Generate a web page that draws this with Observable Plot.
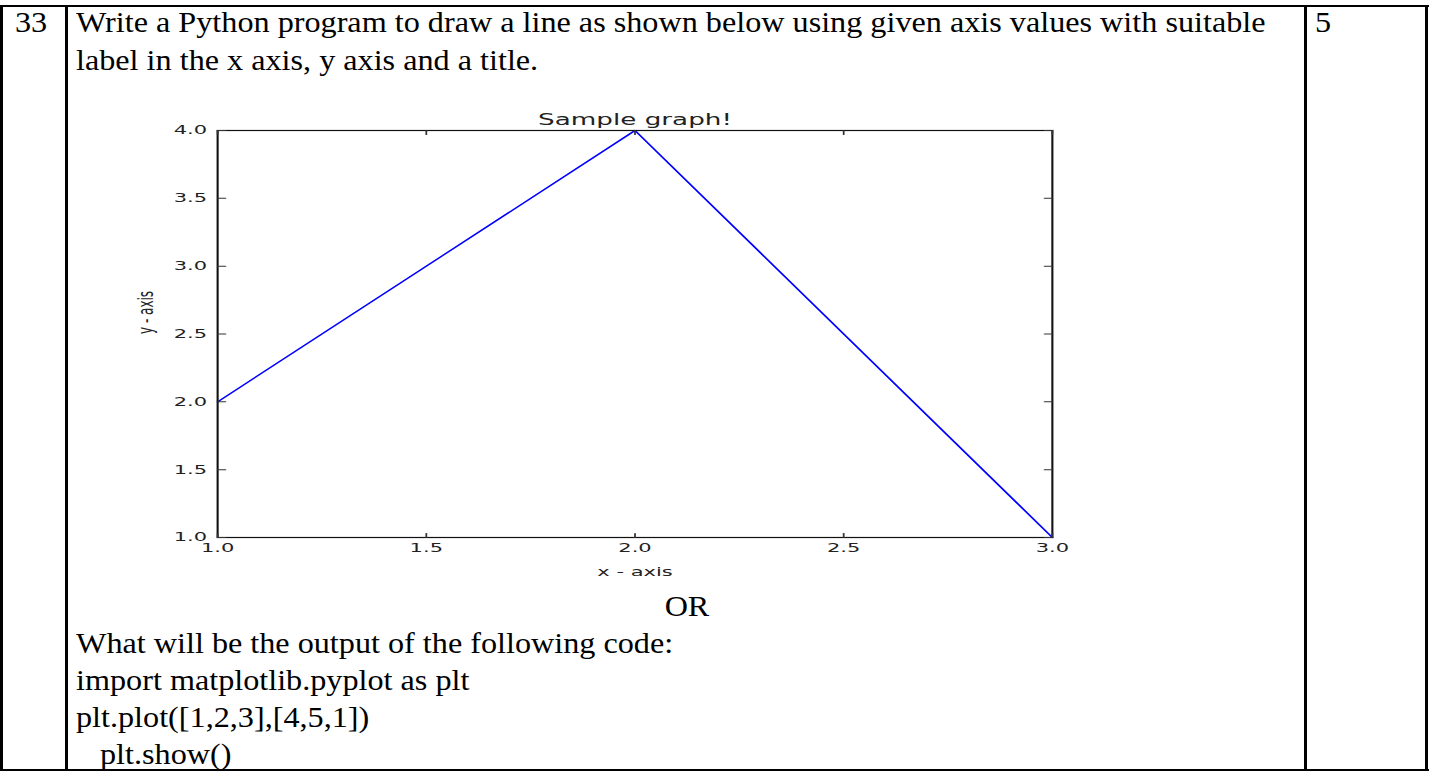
<!DOCTYPE html>
<html>
<head>
<meta charset="utf-8">
<script src="https://cdn.jsdelivr.net/npm/d3@7"></script>
<script src="https://cdn.jsdelivr.net/npm/@observablehq/plot@0.6"></script>
<style>
  html, body { margin: 0; padding: 0; background: #fff; }
  body { width: 1429px; height: 773px; position: relative; overflow: hidden; }
  .rule { position: absolute; background: #000; }
  .t { position: absolute; font-family: "Liberation Serif", "Times New Roman", serif; font-size: 29px;
       line-height: 29px; white-space: pre; color: #000; transform: scaleX(1.11); transform-origin: 0 0; }
  #chart { position: absolute; left: 110px; top: 96px; transform: scaleX(1.75); transform-origin: 0 0; }
</style>
</head>
<body>
<div class="rule" style="left:0;top:5px;width:1429px;height:2px"></div>
<div class="rule" style="left:0;top:769px;width:1429px;height:2px"></div>
<div class="rule" style="left:0;top:5px;width:3px;height:766px"></div>
<div class="rule" style="left:65px;top:5px;width:3px;height:766px"></div>
<div class="rule" style="left:1304px;top:5px;width:3px;height:766px"></div>
<div class="rule" style="left:1425px;top:5px;width:3px;height:766px"></div>

<div class="t" style="left:15px;top:8px">33</div>
<div class="t" style="left:76px;top:8px">Write a Python program to draw a line as shown below using given axis values with suitable</div>
<div class="t" style="left:76px;top:46px">label in the x axis, y axis and a title.</div>
<div class="t" style="left:1315px;top:8px">5</div>
<div class="t" style="left:587px;top:592px;width:200px;text-align:center;transform-origin:50% 0">OR</div>
<div class="t" style="left:76px;top:629px">What will be the output of the following code:</div>
<div class="t" style="left:76px;top:666px">import matplotlib.pyplot as plt</div>
<div class="t" style="left:76px;top:703px">plt.plot([1,2,3],[4,5,1])</div>
<div class="t" style="left:100px;top:740px">plt.show()</div>

<div id="chart"></div>

<script>
// ---- data ----
const xValues = [1, 2, 3];
const yValues = [2, 4, 1];
const xTicks = [1.0, 1.5, 2.0, 2.5, 3.0];
const yTicks = [1.0, 1.5, 2.0, 2.5, 3.0, 3.5, 4.0];
const titleText = "Sample graph!";
const xLabel = "x - axis";
const yLabel = "y - axis";

const points = xValues.map((x, i) => ({x, y: yValues[i]}));
const fmt = d3.format(".1f");
const tickShape = {draw(context, l) { context.moveTo(0, 0); context.lineTo(0, -l); }};
const tickColor = "#333";

const chart = Plot.plot({
  width: 560,
  height: 490,
  marginLeft: 61,
  marginRight: 22,
  marginTop: 34,
  marginBottom: 49,
  style: {fontFamily: "DejaVu Sans", fontSize: "12px", color: "#222", background: "transparent", overflow: "visible"},
  x: {domain: [1, 3], nice: false},
  y: {domain: [1, 4], nice: false},
  marks: [
    Plot.line(points, {x: "x", y: "y", stroke: "#0000ff", strokeWidth: 1.2}),
    Plot.frame({stroke: "#111", strokeWidth: 1.2}),
    // inward tick marks on all four sides
    Plot.vector(yTicks, {y: d => d, frameAnchor: "left", rotate: 90, length: 4.5, anchor: "start", shape: tickShape, stroke: tickColor, strokeWidth: 1}),
    Plot.vector(yTicks, {y: d => d, frameAnchor: "right", rotate: -90, length: 4.5, anchor: "start", shape: tickShape, stroke: tickColor, strokeWidth: 1}),
    Plot.vector(xTicks, {x: d => d, frameAnchor: "bottom", rotate: 0, length: 4, anchor: "start", shape: tickShape, stroke: tickColor, strokeWidth: 1}),
    Plot.vector(xTicks, {x: d => d, frameAnchor: "top", rotate: 180, length: 4, anchor: "start", shape: tickShape, stroke: tickColor, strokeWidth: 1}),
    Plot.axisY(yTicks, {anchor: "left", tickSize: 0, tickPadding: 6, tickFormat: fmt, label: null, fontSize: 12}),
    Plot.axisX(xTicks, {anchor: "bottom", tickSize: 0, tickPadding: 6, tickFormat: fmt, label: null, fontSize: 12}),
    Plot.text([titleText], {frameAnchor: "top", dy: -6, lineAnchor: "bottom", fontSize: 15, fill: "#222"}),
    Plot.text([xLabel], {frameAnchor: "bottom", dy: 38, lineAnchor: "bottom", fontSize: 12, fill: "#222"}),
    Plot.text([yLabel], {frameAnchor: "left", dx: -41, rotate: -90, lineAnchor: "middle", fontSize: 12, fill: "#222"})
  ]
});
document.getElementById("chart").appendChild(chart);
</script>
</body>
</html>
